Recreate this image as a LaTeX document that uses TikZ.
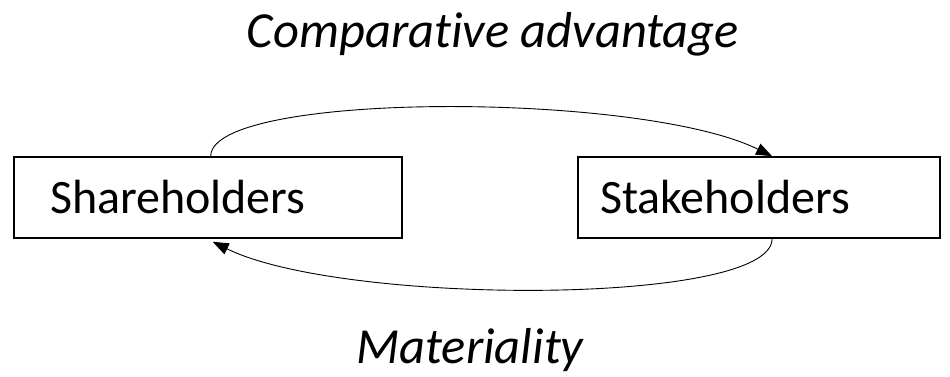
\documentclass[tikz,border=0pt]{standalone}
\usepackage{fontspec}
\setmainfont[Ligatures=NoCommon,RawFeature={-liga;-dlig;-clig}]{Carlito}
\usetikzlibrary{arrows.meta,calc}
\begin{document}
\begin{tikzpicture}[x=1pt,y=-1pt,
  party/.style={draw,line width=1.6pt,minimum height=81pt,align=left,font=\fontsize{48}{54}\selectfont},
  label/.style={anchor=base,font=\fontsize{50.5}{56}\selectfont\itshape},
  link/.style={line width=0.9pt,-{Triangle[length=16pt,width=12pt]}}]
\useasboundingbox (0,0) rectangle (950,377);
\node[party,inner xsep=36pt,text width=316pt] (sh) at (208,197.5) {Shareholders};
\node[party,inner xsep=22pt,text width=318pt] (st) at (759,197.5) {Stakeholders};
\node[label] (ca) at (493,48) {Compara\kern0pt tive advantage};
\node[label] (ma) at (470,363) {Materiality};
\coordinate (a1) at ($(sh.north west)!0.507!(sh.north east)$);
\coordinate (a2) at ($(st.north west)!0.536!(st.north east)$);
\coordinate (b1) at ($(st.south west)!0.536!(st.south east)$);
\coordinate (b2) at ($(sh.south west)!0.507!(sh.south east)+(2,3)$);
\draw[link] (a1) .. controls ($(a1)+(0,-65)$) and ($(a2)+(-132,-65)$) .. (a2);
\draw[link] (b1) .. controls ($(b1)+(0,67)$) and ($(b2)+(130,64)$) .. (b2);
\end{tikzpicture}
\end{document}
